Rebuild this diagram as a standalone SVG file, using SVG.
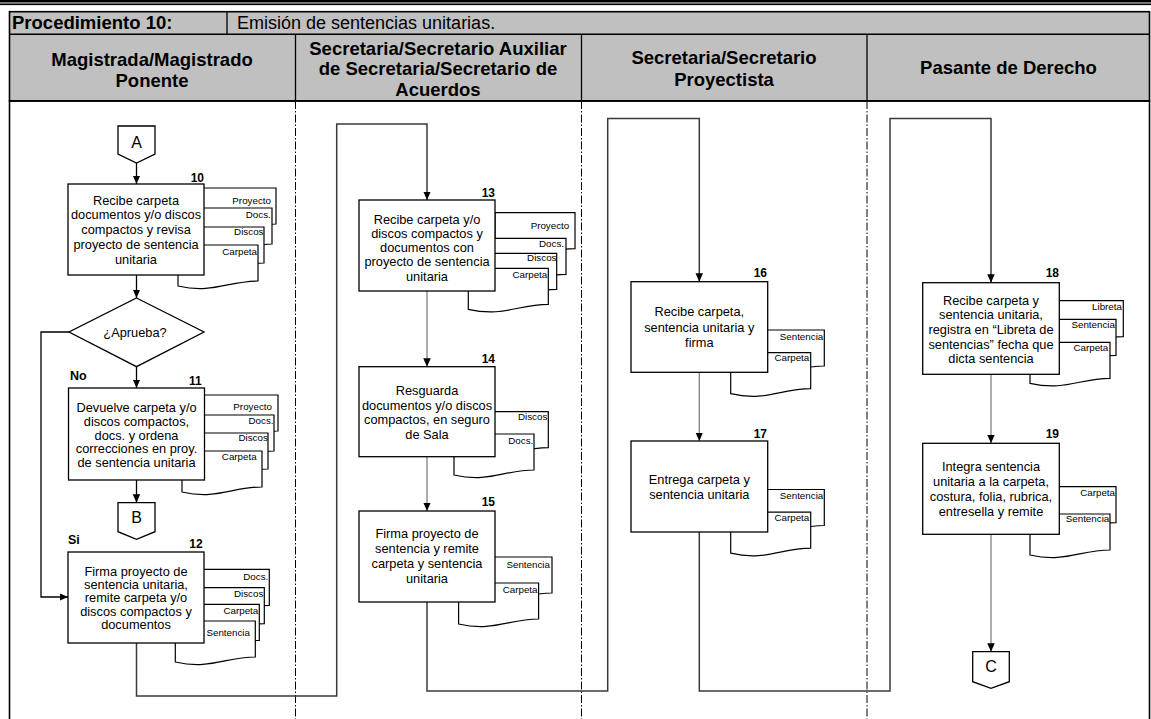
<svg xmlns="http://www.w3.org/2000/svg" xmlns:xlink="http://www.w3.org/1999/xlink" width="1151" height="719" viewBox="0 0 1151 719">
  <style>
    text { font-family: "Liberation Sans", Arial, sans-serif; fill: #000; }
    .hd { font-size: 18.5px; font-weight: bold; text-anchor: middle; }
    .box { fill: #fff; stroke: #000; stroke-width: 1.3; }
    .doc { fill: #fff; stroke: #000; stroke-width: 1.2; }
    .t { font-size: 12.8px; text-anchor: middle; }
    .lbl { font-size: 9.8px; text-anchor: end; }
    .num { font-size: 12px; font-weight: bold; text-anchor: end; }
    .yn { font-size: 12.5px; font-weight: bold; }
    .cn { font-size: 16px; text-anchor: middle; }
    .lane { stroke: #000; stroke-width: 1; stroke-dasharray: 8 2 1.5 2; }
    .ln { fill: none; stroke: #000; stroke-width: 1.3; }
    .route { fill: none; stroke: #3a3a3a; stroke-width: 1.5; }
    .inner { fill: none; stroke: #808080; stroke-width: 1.3; }
  </style>
  <defs>
    <!-- document symbol, 80 wide, wavy bottom -->
    <path id="doc" d="M0,0 H80 V36 C50,36 35,49 0,41 Z"/>
    <marker id="arr" markerUnits="userSpaceOnUse" markerWidth="9" markerHeight="8" refX="8.5" refY="3.75" orient="auto">
      <path d="M0,0 L8.5,3.75 L0,7.5 Z" fill="#000"/>
    </marker>
  </defs>

  <!-- page rule -->
  <rect x="0" y="0" width="1151" height="2.6" fill="#000"/>
  <rect x="0" y="2.6" width="1151" height="1" fill="#9a9a9a"/>
  <rect x="0" y="3.6" width="1151" height="1.5" fill="#000"/>

  <!-- table header -->
  <g id="header">
    <rect x="9.5" y="11.7" width="1140" height="89.3" fill="#c0c0c0" stroke="#000" stroke-width="1.6"/>
    <line x1="9.5" y1="34.3" x2="1149.5" y2="34.3" stroke="#000" stroke-width="1.6"/>
    <line x1="227" y1="11.7" x2="227" y2="34.3" stroke="#000" stroke-width="1.3"/>
    <line x1="295.5" y1="34.3" x2="295.5" y2="101" stroke="#000" stroke-width="1.3"/>
    <line x1="581.5" y1="34.3" x2="581.5" y2="101" stroke="#000" stroke-width="1.3"/>
    <line x1="867" y1="34.3" x2="867" y2="101" stroke="#000" stroke-width="1.3"/>
    <text x="12" y="28.5" style="font-size:18.5px;font-weight:bold">Procedimiento 10:</text>
    <text x="237" y="28.5" style="font-size:18px">Emisión de sentencias unitarias.</text>
    <text class="hd" x="152" y="65.5">Magistrada/Magistrado</text>
    <text class="hd" x="152" y="86.5">Ponente</text>
    <text class="hd" x="438" y="54.5">Secretaria/Secretario Auxiliar</text>
    <text class="hd" x="438" y="75">de Secretaria/Secretario de</text>
    <text class="hd" x="438" y="95.5">Acuerdos</text>
    <text class="hd" x="724" y="64">Secretaria/Secretario</text>
    <text class="hd" x="724" y="85.5">Proyectista</text>
    <text class="hd" x="1008.5" y="73.5">Pasante de Derecho</text>
  </g>

  <!-- swimlane body -->
  <g id="lanes">
    <rect x="9.5" y="101" width="1140" height="620" fill="#fff" stroke="#000" stroke-width="1.6"/>
    <line x1="9.5" y1="101" x2="1149.5" y2="101" stroke="#000" stroke-width="1.6"/>
    <line class="lane" x1="295.5" y1="101" x2="295.5" y2="719"/>
    <line class="lane" x1="581.5" y1="101" x2="581.5" y2="719"/>
    <line class="lane" x1="867" y1="101" x2="867" y2="719"/>
  </g>

  <!-- connectors -->
  <g id="connectors">
    <path class="ln" d="M136.5,163 V184" marker-end="url(#arr)"/>
    <path class="ln" d="M136.5,275 V298" marker-end="url(#arr)"/>
    <path class="ln" d="M136.5,366.7 V388" marker-end="url(#arr)"/>
    <path class="ln" d="M136.5,480 V502.7" marker-end="url(#arr)"/>
    <path class="ln" d="M69,332 H41 V597 H68" marker-end="url(#arr)"/>
    <path class="route" d="M136.5,643 V696 H336.7 V124 H427 V200" marker-end="url(#arr)"/>
    <path class="inner" d="M427,291 V366.7" marker-end="url(#arr)"/>
    <path class="inner" d="M427,456.7 V511" marker-end="url(#arr)"/>
    <path class="route" d="M427,602 V691 H607.7 V118.5 H699.3 V281.7" marker-end="url(#arr)"/>
    <path class="inner" d="M699.3,372.3 V441" marker-end="url(#arr)"/>
    <path class="route" d="M699.3,532 V691 H890 V118.5 H991 V282.7" marker-end="url(#arr)"/>
    <path class="inner" d="M991,374.3 V443.3" marker-end="url(#arr)"/>
    <path class="inner" d="M991,534.3 V651.7" marker-end="url(#arr)"/>
  </g>

  <!-- off-page connectors -->
  <g id="conn-A">
    <path class="box" d="M118,126 H155 V154 L136.5,163 L118,154 Z"/>
    <text class="cn" x="136.5" y="147.5">A</text>
  </g>
  <g id="conn-B">
    <path class="box" d="M118,502.7 H155 V531.7 L136.5,539.3 L118,531.7 Z"/>
    <text class="cn" x="136.5" y="523.3">B</text>
  </g>
  <g id="conn-C">
    <path class="box" d="M972.7,651.7 H1009.3 V681.7 L991,688.3 L972.7,681.7 Z"/>
    <text class="cn" x="991" y="672.3">C</text>
  </g>

  <!-- step 10 -->
  <g id="step-10">
    <use href="#doc" class="doc" x="196" y="188"/>
    <text class="lbl" x="271" y="203.5">Proyecto</text>
    <use href="#doc" class="doc" x="192" y="208"/>
    <text class="lbl" x="270.8" y="217.5">Docs.</text>
    <use href="#doc" class="doc" x="184" y="227"/>
    <text class="lbl" x="263.5" y="234.5">Discos</text>
    <use href="#doc" class="doc" x="178" y="245"/>
    <text class="lbl" x="257" y="255.2">Carpeta</text>
    <rect class="box" x="68" y="184" width="136" height="91"/>
    <text class="num" x="204" y="181.5">10</text>
    <text class="t" x="136" y="204.5">Recibe carpeta</text>
    <text class="t" x="136" y="219.3">documentos y/o discos</text>
    <text class="t" x="136" y="234.1">compactos y revisa</text>
    <text class="t" x="136" y="248.9">proyecto de sentencia</text>
    <text class="t" x="136" y="263.7">unitaria</text>
  </g>

  <!-- decision -->
  <g id="decision">
    <polygon class="box" points="136.5,298 204,332 136.5,366.7 69,332"/>
    <text class="t" x="135" y="336.5">¿Aprueba?</text>
    <text class="yn" x="70" y="379.5">No</text>
    <text class="yn" x="68" y="543.5">Si</text>
  </g>

  <!-- step 11 -->
  <g id="step-11">
    <use href="#doc" class="doc" x="198" y="395"/>
    <text class="lbl" x="272" y="409.5">Proyecto</text>
    <use href="#doc" class="doc" x="194" y="415"/>
    <text class="lbl" x="273.5" y="423.5">Docs.</text>
    <use href="#doc" class="doc" x="188" y="433"/>
    <text class="lbl" x="267.8" y="441.2">Discos</text>
    <use href="#doc" class="doc" x="182" y="451"/>
    <text class="lbl" x="256.7" y="460.2">Carpeta</text>
    <rect class="box" x="68.5" y="388" width="136" height="92"/>
    <text class="num" x="201.7" y="385">11</text>
    <text class="t" x="136.5" y="412">Devuelve carpeta y/o</text>
    <text class="t" x="136.5" y="425.8">discos compactos,</text>
    <text class="t" x="136.5" y="439.5">docs. y ordena</text>
    <text class="t" x="136.5" y="453.2">correcciones en proy.</text>
    <text class="t" x="136.5" y="466.9">de sentencia unitaria</text>
  </g>

  <!-- step 12 -->
  <g id="step-12">
    <use href="#doc" class="doc" x="189.3" y="569.3"/>
    <text class="lbl" x="268.3" y="579.5">Docs.</text>
    <use href="#doc" class="doc" x="184.3" y="587.7"/>
    <text class="lbl" x="263.3" y="596.8">Discos</text>
    <use href="#doc" class="doc" x="179.3" y="604.3"/>
    <text class="lbl" x="258.3" y="613.5">Carpeta</text>
    <use href="#doc" class="doc" x="175.3" y="621"/>
    <text class="lbl" x="250" y="636.2">Sentencia</text>
    <rect class="box" x="68" y="552" width="136" height="91"/>
    <text class="num" x="202.7" y="547.8">12</text>
    <text class="t" x="136" y="575.5">Firma proyecto de</text>
    <text class="t" x="136" y="588.8">sentencia unitaria,</text>
    <text class="t" x="136" y="602.2">remite carpeta y/o</text>
    <text class="t" x="136" y="615.5">discos compactos y</text>
    <text class="t" x="136" y="628.8">documentos</text>
  </g>

  <!-- step 13 -->
  <g id="step-13">
    <use href="#doc" class="doc" x="495" y="212.7"/>
    <text class="lbl" x="569.3" y="228.5">Proyecto</text>
    <use href="#doc" class="doc" x="486" y="238.3"/>
    <text class="lbl" x="564" y="246.8">Docs.</text>
    <use href="#doc" class="doc" x="476.7" y="253.3"/>
    <text class="lbl" x="556.5" y="261.2">Discos</text>
    <use href="#doc" class="doc" x="468.3" y="268.3"/>
    <text class="lbl" x="547.3" y="277.5">Carpeta</text>
    <rect class="box" x="359" y="200" width="136" height="91"/>
    <text class="num" x="495" y="196.8">13</text>
    <text class="t" x="427" y="223.5">Recibe carpeta y/o</text>
    <text class="t" x="427" y="237.8">discos compactos y</text>
    <text class="t" x="427" y="252.2">documentos con</text>
    <text class="t" x="427" y="266.4">proyecto de sentencia</text>
    <text class="t" x="427" y="280.6">unitaria</text>
  </g>

  <!-- step 14 -->
  <g id="step-14">
    <use href="#doc" class="doc" x="468.3" y="411.7"/>
    <text class="lbl" x="547.3" y="420.2">Discos</text>
    <use href="#doc" class="doc" x="454" y="434"/>
    <text class="lbl" x="533.3" y="443.5">Docs.</text>
    <rect class="box" x="359" y="366.7" width="136" height="90"/>
    <text class="num" x="495" y="362.8">14</text>
    <text class="t" x="427" y="395.2">Resguarda</text>
    <text class="t" x="427" y="409.7">documentos y/o discos</text>
    <text class="t" x="427" y="424.4">compactos, en seguro</text>
    <text class="t" x="427" y="439.2">de Sala</text>
  </g>

  <!-- step 15 -->
  <g id="step-15">
    <use href="#doc" class="doc" x="472" y="557"/>
    <text class="lbl" x="550" y="567.5">Sentencia</text>
    <use href="#doc" class="doc" x="458.6" y="583"/>
    <text class="lbl" x="537.5" y="592.5">Carpeta</text>
    <rect class="box" x="359" y="511" width="136" height="91"/>
    <text class="num" x="495" y="505.5">15</text>
    <text class="t" x="427" y="537.5">Firma proyecto de</text>
    <text class="t" x="427" y="552.8">sentencia y remite</text>
    <text class="t" x="427" y="568.1">carpeta y sentencia</text>
    <text class="t" x="427" y="583.4">unitaria</text>
  </g>

  <!-- step 16 -->
  <g id="step-16">
    <use href="#doc" class="doc" x="744.3" y="330"/>
    <text class="lbl" x="823.3" y="339.5">Sentencia</text>
    <use href="#doc" class="doc" x="730.7" y="352.7"/>
    <text class="lbl" x="809.3" y="361.2">Carpeta</text>
    <rect class="box" x="631" y="281.7" width="136.7" height="90.6"/>
    <text class="num" x="767" y="277.2">16</text>
    <text class="t" x="699.3" y="315.5">Recibe carpeta,</text>
    <text class="t" x="699.3" y="331.5">sentencia unitaria y</text>
    <text class="t" x="699.3" y="347">firma</text>
  </g>

  <!-- step 17 -->
  <g id="step-17">
    <use href="#doc" class="doc" x="744.3" y="489.5"/>
    <text class="lbl" x="823.3" y="499">Sentencia</text>
    <use href="#doc" class="doc" x="730.7" y="512.2"/>
    <text class="lbl" x="809.3" y="520.7">Carpeta</text>
    <rect class="box" x="631" y="441" width="136.7" height="91"/>
    <text class="num" x="767" y="437.5">17</text>
    <text class="t" x="699.3" y="483.5">Entrega carpeta y</text>
    <text class="t" x="699.3" y="499">sentencia unitaria</text>
  </g>

  <!-- step 18 -->
  <g id="step-18">
    <use href="#doc" class="doc" x="1043.3" y="300.7"/>
    <text class="lbl" x="1122" y="309.5">Libreta</text>
    <use href="#doc" class="doc" x="1036" y="319.3"/>
    <text class="lbl" x="1115" y="327.8">Sentencia</text>
    <use href="#doc" class="doc" x="1030" y="342.3"/>
    <text class="lbl" x="1108.3" y="351.2">Carpeta</text>
    <rect class="box" x="922.7" y="282.7" width="136.6" height="91.6"/>
    <text class="num" x="1059" y="277.2">18</text>
    <text class="t" x="991" y="304.5">Recibe carpeta y</text>
    <text class="t" x="991" y="319.3">sentencia unitaria,</text>
    <text class="t" x="991" y="334">registra en “Libreta de</text>
    <text class="t" x="991" y="348.5">sentencias” fecha que</text>
    <text class="t" x="991" y="363">dicta sentencia</text>
  </g>

  <!-- step 19 -->
  <g id="step-19">
    <use href="#doc" class="doc" x="1036" y="486.7"/>
    <text class="lbl" x="1115" y="496.2">Carpeta</text>
    <use href="#doc" class="doc" x="1030" y="514"/>
    <text class="lbl" x="1109.3" y="521.8">Sentencia</text>
    <rect class="box" x="922.7" y="443.3" width="136.6" height="91"/>
    <text class="num" x="1059" y="437.8">19</text>
    <text class="t" x="991" y="471.2">Integra sentencia</text>
    <text class="t" x="991" y="486.2">unitaria a la carpeta,</text>
    <text class="t" x="991" y="501.2">costura, folia, rubrica,</text>
    <text class="t" x="991" y="516.2">entresella y remite</text>
  </g>
</svg>
